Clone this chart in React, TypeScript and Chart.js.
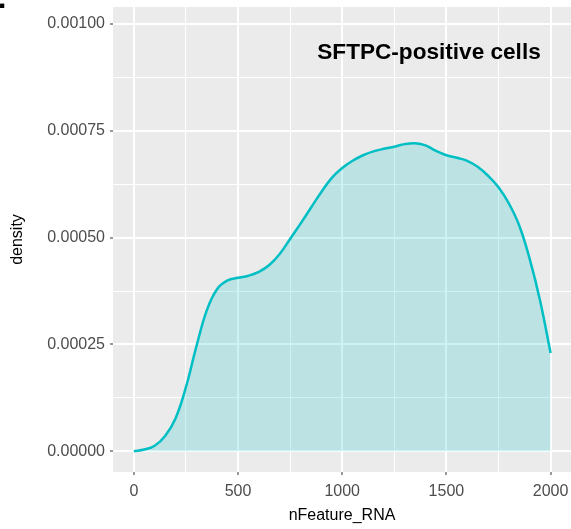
import React, { useEffect, useRef } from 'react';
import { Chart, registerables } from 'chart.js';

Chart.register(...registerables);

const nFeature = [
  0, 50, 100, 150, 200, 250, 300, 350, 400, 450, 500, 550, 600, 650, 700, 750, 800, 850, 900, 950,
  1000, 1050, 1100, 1150, 1200, 1250, 1300, 1350, 1400, 1450, 1500, 1550, 1600, 1650, 1700, 1750,
  1800, 1850, 1900, 1950, 2000,
];
const density = [
  0.0, 0.000004, 0.000013, 0.000036, 0.000077, 0.00015, 0.000245, 0.00033, 0.00038, 0.0004,
  0.000406, 0.000411, 0.00042, 0.000436, 0.000462, 0.000497, 0.000533, 0.00057, 0.000607, 0.00064,
  0.000663, 0.00068, 0.000693, 0.000702, 0.000708, 0.000713, 0.000719, 0.000721, 0.000716, 0.000703,
  0.000693, 0.000687, 0.00068, 0.000666, 0.000645, 0.000618, 0.00058, 0.000528, 0.00045, 0.000352,
  0.00023,
];

const xMajorTicks = [0, 500, 1000, 1500, 2000];
const xTickLabels = ['0', '500', '1000', '1500', '2000'];
const xMinorTicks = [250, 750, 1250, 1750];
const yMajorTicks = [0, 0.00025, 0.0005, 0.00075, 0.001];
const yTickLabels = ['0.00000', '0.00025', '0.00050', '0.00075', '0.00100'];
const yMinorTicks = [0.000125, 0.000375, 0.000625, 0.000875];

const titleText = 'SFTPC-positive cells';
const xTitle = 'nFeature_RNA';
const yTitle = 'density';

const FONT = '"Liberation Sans", Arial, Helvetica, sans-serif';

function majorIndex(list: number[], v: number) {
  return list.findIndex((m) => Math.abs(m - v) < 1e-12 || Math.abs(m - v) < 1e-9 * Math.abs(m));
}

const panelBg = {
  id: 'panelBg',
  beforeDraw(chart: any) {
    const { ctx, chartArea } = chart;
    ctx.save();
    ctx.fillStyle = '#EBEBEB';
    ctx.fillRect(chartArea.left, chartArea.top, chartArea.right - chartArea.left, chartArea.bottom - chartArea.top);
    ctx.restore();
  },
};

const overlayText = {
  id: 'overlayText',
  afterDraw(chart: any) {
    const { ctx, chartArea } = chart;
    ctx.save();
    ctx.fillStyle = '#000000';
    ctx.font = `bold 22.6px ${FONT}`;
    ctx.textAlign = 'center';
    ctx.textBaseline = 'middle';
    ctx.fillText(titleText, chartArea.right - 142, chartArea.top + 46);
    ctx.font = `bold 30px ${FONT}`;
    ctx.textAlign = 'left';
    ctx.textBaseline = 'alphabetic';
    ctx.fillText('.', -2, 8);
    ctx.restore();
  },
};

export default function App() {
  const ref = useRef<HTMLCanvasElement | null>(null);
  useEffect(() => {
    document.body.style.margin = '0';
    const canvas = ref.current;
    if (!canvas) return;
    const chart = new Chart(canvas, {
      type: 'line',
      data: {
        datasets: [
          {
            data: nFeature.map((x, i) => ({ x, y: density[i] })),
            borderColor: '#00BFC4',
            backgroundColor: 'rgba(0,191,196,0.2)',
            borderWidth: 2.5,
            fill: 'origin',
            pointRadius: 0,
            tension: 0.4,
          },
        ],
      },
      options: {
        animation: false,
        responsive: false,
        devicePixelRatio: 1,
        layout: { padding: { top: 7, left: 0, right: 0, bottom: 0 } },
        plugins: { legend: { display: false }, tooltip: { enabled: false }, title: { display: false } },
        scales: {
          x: {
            type: 'linear',
            min: -100,
            max: 2098,
            afterBuildTicks: (s: any) => {
              s.ticks = [...xMajorTicks, ...xMinorTicks].sort((a, b) => a - b).map((v) => ({ value: v }));
            },
            afterFit: (s: any) => {
              s.height = 57;
              s.paddingLeft = 0;
              s.paddingRight = 0;
            },
            border: { display: false },
            grid: {
              color: '#FFFFFF',
              lineWidth: (c: any) => (majorIndex(xMajorTicks, c.tick?.value) >= 0 ? 2 : 1),
              drawTicks: true,
              tickLength: 3,
              tickWidth: 1,
              tickColor: (c: any) => (majorIndex(xMajorTicks, c.tick?.value) >= 0 ? '#333333' : 'rgba(0,0,0,0)'),
            },
            ticks: {
              autoSkip: false,
              maxRotation: 0,
              padding: 7,
              color: '#4D4D4D',
              font: { family: FONT, size: 16 },
              callback: (v: any) => {
                const i = majorIndex(xMajorTicks, Number(v));
                return i >= 0 ? xTickLabels[i] : '';
              },
            },
            title: {
              display: true,
              text: xTitle,
              color: '#000000',
              font: { family: FONT, size: 16 },
              padding: { top: 0, bottom: 4 },
            },
          },
          y: {
            type: 'linear',
            min: -0.0000485,
            max: 0.00104,
            afterBuildTicks: (s: any) => {
              s.ticks = [...yMajorTicks, ...yMinorTicks].sort((a, b) => a - b).map((v) => ({ value: v }));
            },
            afterFit: (s: any) => {
              s.width = 113;
              s.paddingTop = 0;
              s.paddingBottom = 0;
            },
            border: { display: false },
            grid: {
              color: '#FFFFFF',
              lineWidth: (c: any) => (majorIndex(yMajorTicks, c.tick?.value) >= 0 ? 2 : 1),
              drawTicks: true,
              tickLength: 3,
              tickWidth: 1,
              tickColor: (c: any) => (majorIndex(yMajorTicks, c.tick?.value) >= 0 ? '#333333' : 'rgba(0,0,0,0)'),
            },
            ticks: {
              autoSkip: false,
              padding: 5,
              color: '#4D4D4D',
              font: { family: FONT, size: 16 },
              callback: (v: any) => {
                const i = majorIndex(yMajorTicks, Number(v));
                return i >= 0 ? yTickLabels[i] : '';
              },
            },
            title: {
              display: true,
              text: yTitle,
              color: '#000000',
              font: { family: FONT, size: 16 },
              padding: { top: 8, bottom: 0 },
            },
          },
        },
      },
      plugins: [panelBg, overlayText],
    } as any);
    return () => chart.destroy();
  }, []);
  return <canvas ref={ref} width={571} height={529} style={{ display: 'block', width: 571, height: 529 }} />;
}
